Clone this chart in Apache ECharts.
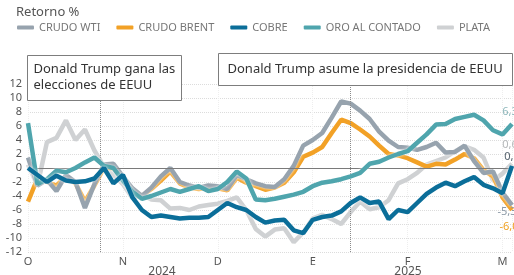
<!DOCTYPE html>
<html>
<head>
<meta charset="utf-8">
<script src="https://cdn.jsdelivr.net/npm/echarts@6/dist/echarts.min.js"></script>
<style>
html, body { margin: 0; padding: 0; background: #fff; }
#chart { width: 514px; height: 275px; }
</style>
</head>
<body>
<div id="chart"></div>
<script>
// etiquetas del eje X (una cada 10 puntos)
var meses = ['O', 'N', 'D', 'E', 'F', 'M'];
var yTicks = [-12, -10, -8, -6, -4, -2, 0, 2, 4, 6, 8, 10, 12];
var nombres = ['CRUDO WTI', 'CRUDO BRENT', 'COBRE', 'ORO AL CONTADO', 'PLATA'];

// retorno % (lectura aproximada del grafico)
var wti = [1.5, -2.5, -1.7, -3.3, -1, -2, -5.7, -2.3, 0.5, 0.6,
    -1.2, -2.9, -4, -2.8, -1.2, 0, -2, -2.5, -2.8, -2.5,
    -2.6, -3, -1, -1.6, -2.2, -2.6, -2.7, -1.6, 0.3, 3.2,
    4, 5, 7.2, 9.5, 9.2, 8.2, 7, 5.2, 3.9, 3,
    2.9, 2.6, 3, 3.6, 2.2, 2.3, 3.2, 1, -0.7, -0.5,
    -3.5, -5.3];
var brent = [-4.8, -1.5, -2, -2.5, -1.2, -2.2, -4.8, -2.5, 0, 0,
    -1.5, -3, -4, -3, -1.8, -0.5, -2.2, -2.8, -3, -2.8,
    -2.9, -3.2, -1.4, -2.1, -2.6, -3.1, -2.8, -2.1, -0.6, 1.6,
    2.2, 3, 5, 6.9, 6.4, 5.5, 4.5, 3.2, 2, 1.8,
    1.4, 0.8, 0.2, 0.6, 0.5, 1.2, 2, 1.4, -0.3, -1.2,
    -4.2, -6.0];
var cobre = [0, -1, -2, -1.1, -1.8, -2, -1.9, -1.5, 0, -2.2,
    -1, -4.2, -6, -7, -6.8, -7, -7.2, -7.1, -7.1, -7,
    -6, -5, -5.6, -6, -7, -7.8, -7.5, -7.4, -8.9, -9.3,
    -7.4, -7, -6.8, -6.2, -5, -4.2, -5, -4.8, -7.3, -6,
    -6.3, -5, -3.7, -2.8, -2.1, -2.6, -1.9, -1.3, -2.4, -2.9,
    -3.6, 0.3];
var oro = [6.4, -2.3, -1.6, -0.4, -0.6, 0, 0.8, 1.5, 0.3, 0,
    -1.8, -3.4, -4.4, -4, -3.5, -3, -3.4, -3, -2.6, -3.3,
    -3, -2, -0.5, -1.5, -4.5, -4.6, -4.4, -4.1, -3.8, -3.4,
    -2.6, -2.1, -1.9, -1.6, -1.2, -0.7, 0.6, 0.9, 1.5, 2,
    2.4, 3.6, 4.8, 6.2, 6.3, 7, 7.3, 7.6, 6.8, 5.4,
    4.8, 6.3];
var plata = [0.5, -2.5, 3.7, 4.3, 6.8, 4, 5.5, 2.5, 0.2, -1,
    -2.3, -4.3, -3.8, -4.5, -4.6, -5.8, -5.7, -6, -5.5, -5.3,
    -5.1, -4.7, -4.2, -6, -8.7, -9.8, -8.8, -8.6, -10.6, -9.2,
    -7.2, -6.7, -7.3, -8, -6.3, -4.8, -5.9, -5.6, -4.6, -2.2,
    -1.6, -0.7, 0.5, 1, 1.5, 2.4, 3.1, 2.6, 1.5, -1.8,
    -0.8, 0.6];

// posiciones de los eventos sobre el eje X
var eleccion = 7.6;
var investidura = 34;

var colores = ['#97a3ae', '#f2a126', '#0b6e99', '#4fa5ad', '#cfd1d3'];

function puntos(datos) {
    return datos.map(function (v, i) { return [i, v]; });
}

// etiqueta con el ultimo valor de la serie
function etiquetaFinal(datos, color, dx, dy) {
    var i = datos.length - 1;
    return {
        silent: true,
        symbol: 'circle',
        symbolSize: 1,
        itemStyle: { color: 'rgba(0,0,0,0)' },
        label: {
            show: true,
            position: 'inside',
            offset: [dx, dy],
            color: color,
            fontSize: 11,
            fontFamily: 'Noto Sans',
            formatter: function (p) { return p.value.toFixed(1).replace('.', ','); }
        },
        data: [{ coord: [i, datos[i]], value: datos[i] }]
    };
}

function serie(nombre, datos, color, z) {
    return {
        name: nombre,
        type: 'line',
        data: puntos(datos),
        showSymbol: false,
        symbol: 'none',
        z: z,
        lineStyle: {
            color: color,
            width: 4.5,
            shadowColor: 'rgba(255,255,255,0.9)',
            shadowBlur: 3
        },
        itemStyle: { color: color },
        emphasis: { disabled: true }
    };
}

var myChart = echarts.init(document.getElementById('chart'));

var series = [
    serie(nombres[0], wti, colores[0], 4),
    serie(nombres[1], brent, colores[1], 3),
    serie(nombres[2], cobre, colores[2], 6),
    serie(nombres[3], oro, colores[3], 5),
    serie(nombres[4], plata, colores[4], 2)
];
series[0].markPoint = etiquetaFinal(wti, '#8c99a6', -5, 7);
series[1].markPoint = etiquetaFinal(brent, '#f0a020', -3, 17);
series[2].markPoint = etiquetaFinal(cobre, '#56636e', 0, -9);
series[3].markPoint = etiquetaFinal(oro, '#8fb8bc', -2, -12);
series[4].markPoint = etiquetaFinal(plata, '#b5b8ba', -2, -19);

// linea del cero y lineas de los eventos
series[4].markLine = {
    silent: true,
    symbol: 'none',
    label: { show: false },
    data: [
        { yAxis: 0, lineStyle: { color: '#7a7a7a', width: 1.2, type: 'solid' } },
        { xAxis: eleccion, lineStyle: { color: '#8a8a8a', width: 1, type: 'dotted' } },
        { xAxis: investidura, lineStyle: { color: '#8a8a8a', width: 1, type: 'dotted' } }
    ]
};

var option = {
    animation: false,
    backgroundColor: '#fff',
    title: {
        text: 'Retorno %',
        left: 11,
        top: 1,
        textStyle: { fontSize: 13, fontWeight: 'normal', color: '#555', fontFamily: 'Noto Sans' }
    },
    legend: {
        data: nombres,
        left: 17,
        top: 22,
        itemGap: 16,
        itemWidth: 17,
        itemHeight: 4,
        icon: 'roundRect',
        padding: 0,
        textStyle: { fontSize: 11, color: '#777', fontFamily: 'Noto Sans' }
    },
    grid: { left: 28, right: 2, top: 84, bottom: 23 },
    xAxis: {
        type: 'value',
        min: 0,
        max: wti.length - 1,
        interval: 10,
        axisLine: { show: false },
        axisTick: { show: false },
        splitLine: { show: true, lineStyle: { color: '#eeeeee', type: 'dotted' } },
        axisLabel: {
            margin: 4,
            fontSize: 11,
            color: '#555',
            fontFamily: 'Noto Sans',
            showMaxLabel: false,
            formatter: function (v) { return meses[v / 10] || ''; }
        }
    },
    yAxis: {
        type: 'value',
        min: yTicks[0],
        max: yTicks[yTicks.length - 1],
        interval: 2,
        axisLine: { show: false },
        axisTick: { show: false },
        splitLine: { lineStyle: { color: '#dcdcdc', type: 'dotted' } },
        axisLabel: { margin: 6, fontSize: 11, color: '#555', fontFamily: 'Noto Sans' }
    },
    graphic: {
        z: 100,
        zlevel: 1,
        elements: [
            {
                type: 'group', left: 27, top: 55, z: 100,
                children: [
                    { type: 'rect', z: 100, shape: { x: 0, y: 0, width: 154, height: 45 },
                      style: { fill: '#fff', stroke: '#7d7d7d', lineWidth: 1 } },
                    { type: 'text', z: 101, x: 6, y: 6,
                      style: { text: 'Donald Trump gana las\nelecciones de EEUU', fill: '#333',
                               font: '13px "Noto Sans"', lineHeight: 16, verticalAlign: 'top' } }
                ]
            },
            {
                type: 'group', left: 218, top: 53, z: 100,
                children: [
                    { type: 'rect', z: 100, shape: { x: 0, y: 0, width: 294, height: 32 },
                      style: { fill: '#fff', stroke: '#7d7d7d', lineWidth: 1 } },
                    { type: 'text', z: 101, x: 9, y: 8,
                      style: { text: 'Donald Trump asume la presidencia de EEUU', fill: '#333',
                               font: '13px "Noto Sans"', lineHeight: 16, verticalAlign: 'top' } }
                ]
            },
            { type: 'text', x: 162, y: 266, z: 100,
              style: { text: '2024', fill: '#555', font: '12px "Noto Sans"', align: 'center', verticalAlign: 'top' } },
            { type: 'text', x: 408, y: 266, z: 100,
              style: { text: '2025', fill: '#555', font: '12px "Noto Sans"', align: 'center', verticalAlign: 'top' } }
        ]
    },
    series: series
};

myChart.setOption(option);
</script>
</body>
</html>
